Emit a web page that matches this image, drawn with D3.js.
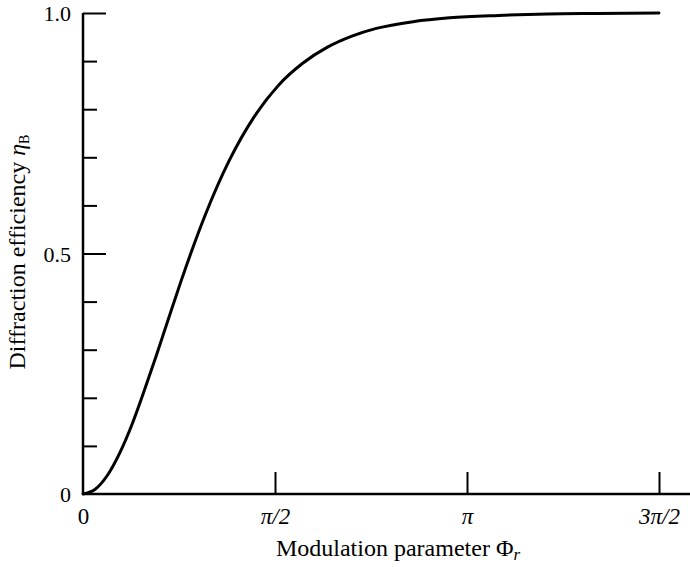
<!DOCTYPE html>
<html>
<head>
<meta charset="utf-8">
<script src="https://cdn.jsdelivr.net/npm/d3@7"></script>
<style>
  body { margin: 0; background: #fff; }
  svg { display: block; }
  text { font-family: "Liberation Serif", "DejaVu Serif", serif; fill: #000; }
  .axis path { display: none; }
  .axis line { stroke: #000; stroke-width: 2; }
</style>
</head>
<body>
<svg width="690" height="567"></svg>
<script>
// modulation parameter (radians) and diffraction efficiency
let phi = [0, 0.1, 0.2, 0.3, 0.4, 0.5, 0.6, 0.7, 0.8, 0.9, 1.0, 1.2, 1.4, 1.6, 1.8, 2.0, 2.2, 2.4, 2.7, 3.0, 3.4, 3.8, 4.2, 4.712];
let eta = [0, 0.01, 0.039, 0.085, 0.144, 0.214, 0.288, 0.365, 0.441, 0.513, 0.58, 0.695, 0.784, 0.85, 0.896, 0.929, 0.952, 0.968, 0.982, 0.99, 0.995, 0.998, 0.999, 1.0];

let xTicks = [0, Math.PI / 2, Math.PI, 3 * Math.PI / 2];
let xTickLabels = ["0", "π/2", "π", "3π/2"];
let yTicks = [0, 0.1, 0.2, 0.3, 0.4, 0.5, 0.6, 0.7, 0.8, 0.9, 1.0];
let yTickLabels = {"0": "0", "0.5": "0.5", "1": "1.0"};

let svg = d3.select("svg"),
    width = +svg.attr("width"),
    margin = { top: 13, left: 83, bottom: 73 },
    plotRight = 659,
    y0 = +svg.attr("height") - margin.bottom;

let x = d3.scaleLinear()
    .domain([0, 3 * Math.PI / 2])
    .range([margin.left, plotRight]);

let y = d3.scaleLinear()
    .domain([0, 1])
    .range([y0, margin.top]);

// x axis, ticks pointing up
let gx = svg.append("g")
    .attr("class", "axis")
    .attr("transform", "translate(0," + y0 + ")")
    .call(d3.axisBottom(x)
        .tickValues(xTicks)
        .tickSizeInner(-22)
        .tickSizeOuter(0)
        .tickPadding(0)
        .tickFormat((d, i) => xTickLabels[i]));

gx.selectAll(".tick")
    .filter(d => d === 0)
    .select("line").remove();

gx.selectAll(".tick text")
    .attr("y", 30)
    .attr("dy", 0)
    .attr("font-size", 23)
    .style("font-style", (d, i) => i > 0 ? "italic" : null);

// y axis, ticks pointing right
let gy = svg.append("g")
    .attr("class", "axis")
    .attr("transform", "translate(" + margin.left + ",0)")
    .call(d3.axisLeft(y)
        .tickValues(yTicks)
        .tickSizeInner(-14)
        .tickSizeOuter(0)
        .tickPadding(12)
        .tickFormat(d => yTickLabels[String(+d.toFixed(1))] || ""));

gy.selectAll(".tick")
    .filter(d => Math.abs(d - 0.5) < 1e-6 || Math.abs(d - 1) < 1e-6)
    .select("line").attr("x2", 23);

gy.selectAll(".tick")
    .filter(d => d === 0)
    .select("line").remove();

gy.selectAll(".tick text")
    .attr("font-size", 22)
    .attr("dy", "0.35em");

// axis lines
svg.append("line")
    .attr("x1", margin.left).attr("x2", width)
    .attr("y1", y0).attr("y2", y0)
    .attr("stroke", "#000").attr("stroke-width", 2.5);

svg.append("line")
    .attr("x1", margin.left).attr("x2", margin.left)
    .attr("y1", y(1)).attr("y2", y0)
    .attr("stroke", "#000").attr("stroke-width", 2.5);

// curve
let line = d3.line()
    .x((d, i) => x(phi[i]))
    .y(d => y(d))
    .curve(d3.curveMonotoneX);

svg.append("path")
    .datum(eta)
    .attr("d", line)
    .attr("fill", "none")
    .attr("stroke", "#000")
    .attr("stroke-width", 3)
    .attr("stroke-linecap", "round");

// axis titles
let xt = svg.append("text")
    .attr("x", 398)
    .attr("y", 556)
    .attr("text-anchor", "middle")
    .attr("font-size", 24);
xt.append("tspan").text("Modulation parameter Φ");
xt.append("tspan").text("r").attr("font-style", "italic").attr("font-size", 17).attr("dy", 4);

let yt = svg.append("text")
    .attr("transform", "translate(25,252) rotate(-90)")
    .attr("text-anchor", "middle")
    .attr("font-size", 24);
yt.append("tspan").text("Diffraction efficiency ");
yt.append("tspan").text("η").attr("font-style", "italic");
yt.append("tspan").text("B").attr("font-size", 14).attr("dy", 4);
</script>
</body>
</html>
